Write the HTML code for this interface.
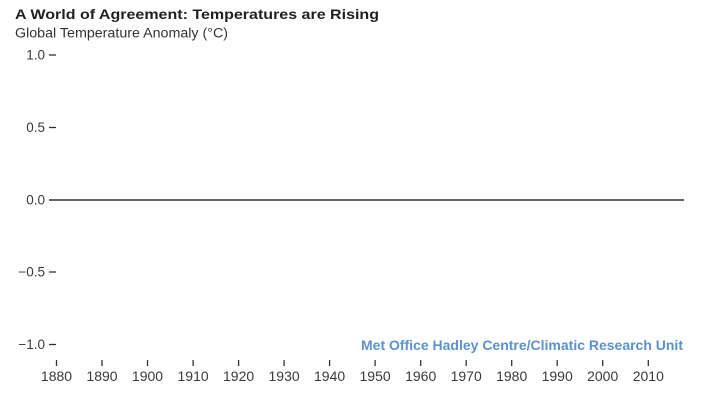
<!DOCTYPE html>
<html>
<head>
<meta charset="utf-8">
<style>
  html, body { margin: 0; padding: 0; background: #ffffff; }
  svg { display: block; }
  text { font-family: "Liberation Sans", sans-serif; }
</style>
</head>
<body>
<svg width="720" height="400" viewBox="0 0 720 400" xmlns="http://www.w3.org/2000/svg">
  <rect width="720" height="400" fill="#ffffff"/>
  <!-- Title -->
  <text x="15" y="19" font-size="14" font-weight="bold" fill="#1f1f1f" textLength="364" lengthAdjust="spacingAndGlyphs">A World of Agreement: Temperatures are Rising</text>
  <text x="15" y="37.5" font-size="13.5" fill="#333333" textLength="213" lengthAdjust="spacingAndGlyphs">Global Temperature Anomaly (°C)</text>

  <!-- Y axis labels -->
  <g font-size="13.5" fill="#3a3a3a" text-anchor="end">
    <text x="45" y="59.5">1.0</text>
    <text x="45" y="132">0.5</text>
    <text x="45" y="204.5">0.0</text>
    <text x="45" y="276.5">−0.5</text>
    <text x="45" y="349">−1.0</text>
  </g>
  <!-- Y tick dashes -->
  <g stroke="#333333" stroke-width="1.3">
    <line x1="49" y1="55" x2="56" y2="55"/>
    <line x1="49" y1="127.5" x2="56" y2="127.5"/>
    <line x1="49" y1="272" x2="56" y2="272"/>
    <line x1="49" y1="344.5" x2="56" y2="344.5"/>
  </g>

  <!-- Zero line -->
  <line x1="49" y1="200" x2="684" y2="200" stroke="#333333" stroke-width="1.6"/>

  <!-- Source -->
  <text x="361" y="350" font-size="14" font-weight="bold" fill="#5b92cc" textLength="322" lengthAdjust="spacingAndGlyphs">Met Office Hadley Centre/Climatic Research Unit</text>

  <!-- X ticks -->
  <g stroke="#333333" stroke-width="1.3">
    <line x1="56.5" y1="360" x2="56.5" y2="366"/>
    <line x1="102" y1="360" x2="102" y2="366"/>
    <line x1="147.5" y1="360" x2="147.5" y2="366"/>
    <line x1="193.1" y1="360" x2="193.1" y2="366"/>
    <line x1="238.6" y1="360" x2="238.6" y2="366"/>
    <line x1="284.1" y1="360" x2="284.1" y2="366"/>
    <line x1="329.6" y1="360" x2="329.6" y2="366"/>
    <line x1="375.1" y1="360" x2="375.1" y2="366"/>
    <line x1="420.7" y1="360" x2="420.7" y2="366"/>
    <line x1="466.2" y1="360" x2="466.2" y2="366"/>
    <line x1="511.7" y1="360" x2="511.7" y2="366"/>
    <line x1="557.2" y1="360" x2="557.2" y2="366"/>
    <line x1="602.7" y1="360" x2="602.7" y2="366"/>
    <line x1="648.3" y1="360" x2="648.3" y2="366"/>
  </g>
  <!-- X labels -->
  <g font-size="14" fill="#3a3a3a" text-anchor="middle">
    <text x="56.5" y="381">1880</text>
    <text x="102" y="381">1890</text>
    <text x="147.5" y="381">1900</text>
    <text x="193.1" y="381">1910</text>
    <text x="238.6" y="381">1920</text>
    <text x="284.1" y="381">1930</text>
    <text x="329.6" y="381">1940</text>
    <text x="375.1" y="381">1950</text>
    <text x="420.7" y="381">1960</text>
    <text x="466.2" y="381">1970</text>
    <text x="511.7" y="381">1980</text>
    <text x="557.2" y="381">1990</text>
    <text x="602.7" y="381">2000</text>
    <text x="648.3" y="381">2010</text>
  </g>
</svg>
</body>
</html>
